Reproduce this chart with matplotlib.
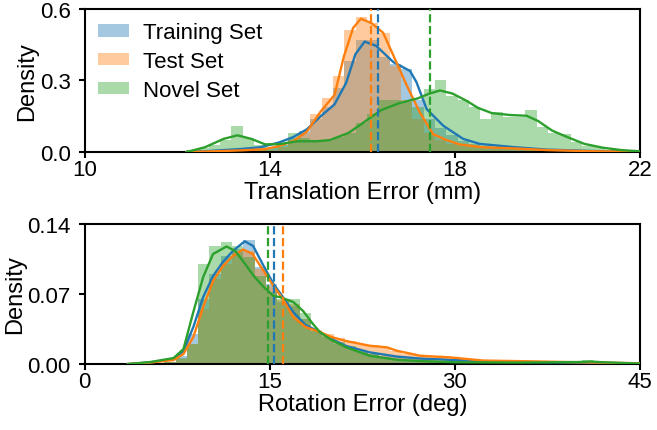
import numpy as np
import matplotlib.pyplot as plt

plt.rcParams['font.family'] = ['Liberation Sans', 'DejaVu Sans']

labels = ['Training Set', 'Test Set', 'Novel Set']
colors = ['#1f77b4', '#ff7f0e', '#2ca02c']

# ---- translation error (mm) ----
trans_bin_start = 12.19
trans_bin_width = 0.2445
trans_hist = [
    # training
    [0, 0, 0.003, 0.005, 0.008, 0.01, 0.012, 0.018, 0.03, 0.06, 0.09, 0.14, 0.19,
     0.27, 0.38, 0.47, 0.47, 0.40, 0.37, 0.35, 0.22, 0.14, 0.10, 0.07, 0.045,
     0.035, 0.025, 0.02, 0.018, 0.015, 0.012, 0.01, 0.008, 0.006, 0.004, 0.003,
     0.002, 0.001],
    # test
    [0, 0, 0.002, 0.004, 0.005, 0.006, 0.008, 0.01, 0.02, 0.05, 0.08, 0.16, 0.225,
     0.32, 0.51, 0.566, 0.54, 0.50, 0.36, 0.22, 0.14, 0.08, 0.05, 0.035, 0.03,
     0.02, 0.02, 0.015, 0.015, 0.012, 0.01, 0.008, 0.006, 0.005, 0.004, 0.003,
     0.002, 0.001],
    # novel
    [0.008, 0.015, 0.03, 0.05, 0.11, 0.06, 0.03, 0.022, 0.03, 0.08, 0.06, 0.05,
     0.045, 0.065, 0.08, 0.12, 0.16, 0.22, 0.22, 0.21, 0.19, 0.265, 0.30, 0.234,
     0.216, 0.188, 0.14, 0.167, 0.146, 0.146, 0.176, 0.104, 0.08, 0.076, 0.04,
     0.024, 0.02, 0.01],
]
trans_kde_x = [
    [12.2, 12.6, 13.0, 13.4, 13.8, 14.2, 14.5, 14.8, 15.1, 15.4, 15.65, 15.85,
     16.05, 16.3, 16.67, 17.03, 17.17, 17.39, 17.75, 18.18, 18.54, 19.3, 20.0,
     21.0, 22.0],
    [12.2, 12.8, 13.4, 13.9, 14.2, 14.5, 14.8, 15.1, 15.4, 15.6, 15.8, 15.97,
     16.2, 16.45, 16.67, 16.96, 17.24, 17.53, 17.82, 18.1, 18.6, 19.3, 20.0,
     21.0, 22.0],
    [12.2, 12.6, 13.0, 13.3, 13.6, 13.9, 14.2, 14.6, 15.0, 15.3, 15.7, 16.0,
     16.4, 16.8, 17.2, 17.45, 17.68, 17.95, 18.25, 18.5, 18.8, 19.2, 19.55,
     19.8, 20.1, 20.4, 20.8, 21.2, 21.6, 22.0],
]
trans_kde_y = [
    [0.0, 0.003, 0.008, 0.013, 0.02, 0.04, 0.062, 0.095, 0.15, 0.2, 0.29, 0.41,
     0.463, 0.445, 0.377, 0.34, 0.293, 0.18, 0.11, 0.055, 0.034, 0.02, 0.01,
     0.004, 0.001],
    [0.0, 0.003, 0.007, 0.012, 0.025, 0.045, 0.085, 0.17, 0.24, 0.40, 0.52,
     0.559, 0.54, 0.50, 0.405, 0.279, 0.167, 0.075, 0.05, 0.032, 0.02, 0.015,
     0.008, 0.003, 0.001],
    [0.0, 0.02, 0.055, 0.07, 0.055, 0.032, 0.033, 0.045, 0.045, 0.05, 0.08,
     0.12, 0.175, 0.205, 0.225, 0.245, 0.258, 0.245, 0.215, 0.185, 0.163,
     0.155, 0.152, 0.13, 0.09, 0.065, 0.034, 0.018, 0.008, 0.003],
]
trans_mean = [16.34, 16.18, 17.46]

# ---- rotation error (deg) ----
rot_bin_start = 5.53
rot_bin_width = 0.916
rot_hist = [
    [0.001, 0.002, 0.008, 0.03, 0.065, 0.09, 0.108, 0.115, 0.124, 0.097, 0.08,
     0.062, 0.058, 0.045, 0.033, 0.027, 0.02, 0.016, 0.012, 0.01, 0.008, 0.007,
     0.006, 0.005, 0.004, 0.0035, 0.003, 0.0028, 0.0025, 0.0022, 0.002, 0.002,
     0.0018, 0.0016, 0.0015, 0.0013, 0.0012, 0.001, 0.001, 0.0008, 0.0006,
     0.0005, 0.0003],
    [0.001, 0.002, 0.005, 0.02, 0.055, 0.085, 0.1, 0.112, 0.113, 0.095, 0.078,
     0.064, 0.06, 0.045, 0.034, 0.03, 0.026, 0.023, 0.02, 0.019, 0.016, 0.013,
     0.01, 0.009, 0.008, 0.007, 0.006, 0.005, 0.0042, 0.0036, 0.003, 0.003,
     0.0028, 0.0025, 0.0022, 0.002, 0.0018, 0.0016, 0.0015, 0.0012, 0.001,
     0.0008, 0.0006],
    [0.001, 0.002, 0.006, 0.02, 0.10, 0.118, 0.122, 0.118, 0.107, 0.088, 0.072,
     0.065, 0.065, 0.051, 0.033, 0.028, 0.022, 0.018, 0.013, 0.01, 0.007, 0.005,
     0.004, 0.003, 0.0028, 0.0025, 0.002, 0.0015, 0.0015, 0.0015, 0.0015,
     0.0015, 0.0015, 0.0015, 0.0015, 0.0015, 0.0015, 0.0015, 0.004, 0.002,
     0.001, 0.0008, 0.0005],
]
rot_kde_x = [
    [3.5, 5.3, 7.2, 8.0, 8.8, 9.6, 10.4, 11.2, 12.0, 12.97, 13.65, 14.5, 15.3,
     16.0, 16.9, 17.9, 19.05, 20.0, 21.2, 23.1, 25.3, 27.2, 30, 33, 36, 40, 45],
    [3.5, 5.3, 7.2, 8.0, 8.8, 9.6, 10.4, 11.2, 12.0, 12.84, 13.6, 14.5, 15.3,
     16.0, 16.9, 17.9, 19.05, 20.0, 21.2, 23.1, 24.5, 25.3, 27.2, 29.6, 32.3,
     36.3, 40.4, 45],
    [3.5, 5.3, 7.2, 8.0, 8.8, 9.6, 10.4, 11.49, 12.2, 13.0, 13.7, 14.5, 15.3,
     15.8, 16.9, 17.7, 18.5, 19.05, 20.0, 21.2, 23.1, 25.3, 27.2, 30, 35, 40,
     41, 42, 45],
]
rot_kde_y = [
    [0, 0.0017, 0.005, 0.013, 0.037, 0.067, 0.088, 0.102, 0.113, 0.1227, 0.118,
     0.098, 0.08, 0.068, 0.052, 0.039, 0.032, 0.025, 0.018, 0.0117, 0.0075,
     0.0055, 0.004, 0.0025, 0.002, 0.0015, 0.0005],
    [0, 0.0015, 0.004, 0.01, 0.027, 0.057, 0.083, 0.098, 0.108, 0.1145, 0.11,
     0.093, 0.078, 0.066, 0.047, 0.037, 0.032, 0.027, 0.023, 0.0183, 0.0167,
     0.0133, 0.0083, 0.0067, 0.0035, 0.0027, 0.0017, 0.0008],
    [0, 0.002, 0.006, 0.015, 0.052, 0.087, 0.11, 0.1175, 0.113, 0.1, 0.088,
     0.077, 0.068, 0.067, 0.062, 0.053, 0.04, 0.032, 0.024, 0.0167, 0.0083,
     0.0043, 0.003, 0.0018, 0.0015, 0.002, 0.0025, 0.0018, 0.0005],
]
rot_mean = [15.35, 16.08, 14.86]


def draw_panel(ax, start, width, hists, kx, ky, means, xlim, xticks, ylim,
               yticks, ytick_labels, xlabel):
    for h, c, lab in zip(hists, colors, labels):
        left = start + width * np.arange(len(h))
        ax.bar(left, h, width=width, align='edge', color=c, alpha=0.4,
               linewidth=0, label=lab)
    for x, y, c in zip(kx, ky, colors):
        ax.plot(x, y, color=c, lw=1.7, zorder=3)
    for m, c in zip(means, colors):
        ax.axvline(m, color=c, ls='--', lw=1.6, zorder=3)
    ax.set_xlim(*xlim)
    ax.set_ylim(*ylim)
    ax.set_xticks(xticks)
    ax.set_yticks(yticks)
    ax.set_yticklabels(ytick_labels)
    ax.set_xlabel(xlabel, fontsize=17, labelpad=1)
    ax.set_ylabel('Density', fontsize=17, labelpad=1)
    ax.tick_params(direction='out', length=4, width=1.5, labelsize=16)
    ax.tick_params(axis='x', pad=1)
    ax.tick_params(axis='y', pad=6)
    for s in ax.spines.values():
        s.set_linewidth(1.5)


fig = plt.figure(figsize=(6.57, 4.31), dpi=100)
ax1 = fig.add_axes([0.129, 0.645, 0.845, 0.332])
ax2 = fig.add_axes([0.129, 0.153, 0.845, 0.325])

draw_panel(ax1, trans_bin_start, trans_bin_width, trans_hist, trans_kde_x,
           trans_kde_y, trans_mean, (10, 22), [10, 14, 18, 22], (0, 0.6),
           [0, 0.3, 0.6], ['0.0', '0.3', '0.6'], 'Translation Error (mm)')
draw_panel(ax2, rot_bin_start, rot_bin_width, rot_hist, rot_kde_x, rot_kde_y,
           rot_mean, (0, 45), [0, 15, 30, 45], (0, 0.14), [0, 0.07, 0.14],
           ['0.00', '0.07', '0.14'], 'Rotation Error (deg)')

ax1.legend(loc='upper left', frameon=False, fontsize=16, borderaxespad=0.2,
           handlelength=1.4, handleheight=0.5, handletextpad=0.6,
           labelspacing=0.35)

fig.savefig('out.png', dpi=100)
